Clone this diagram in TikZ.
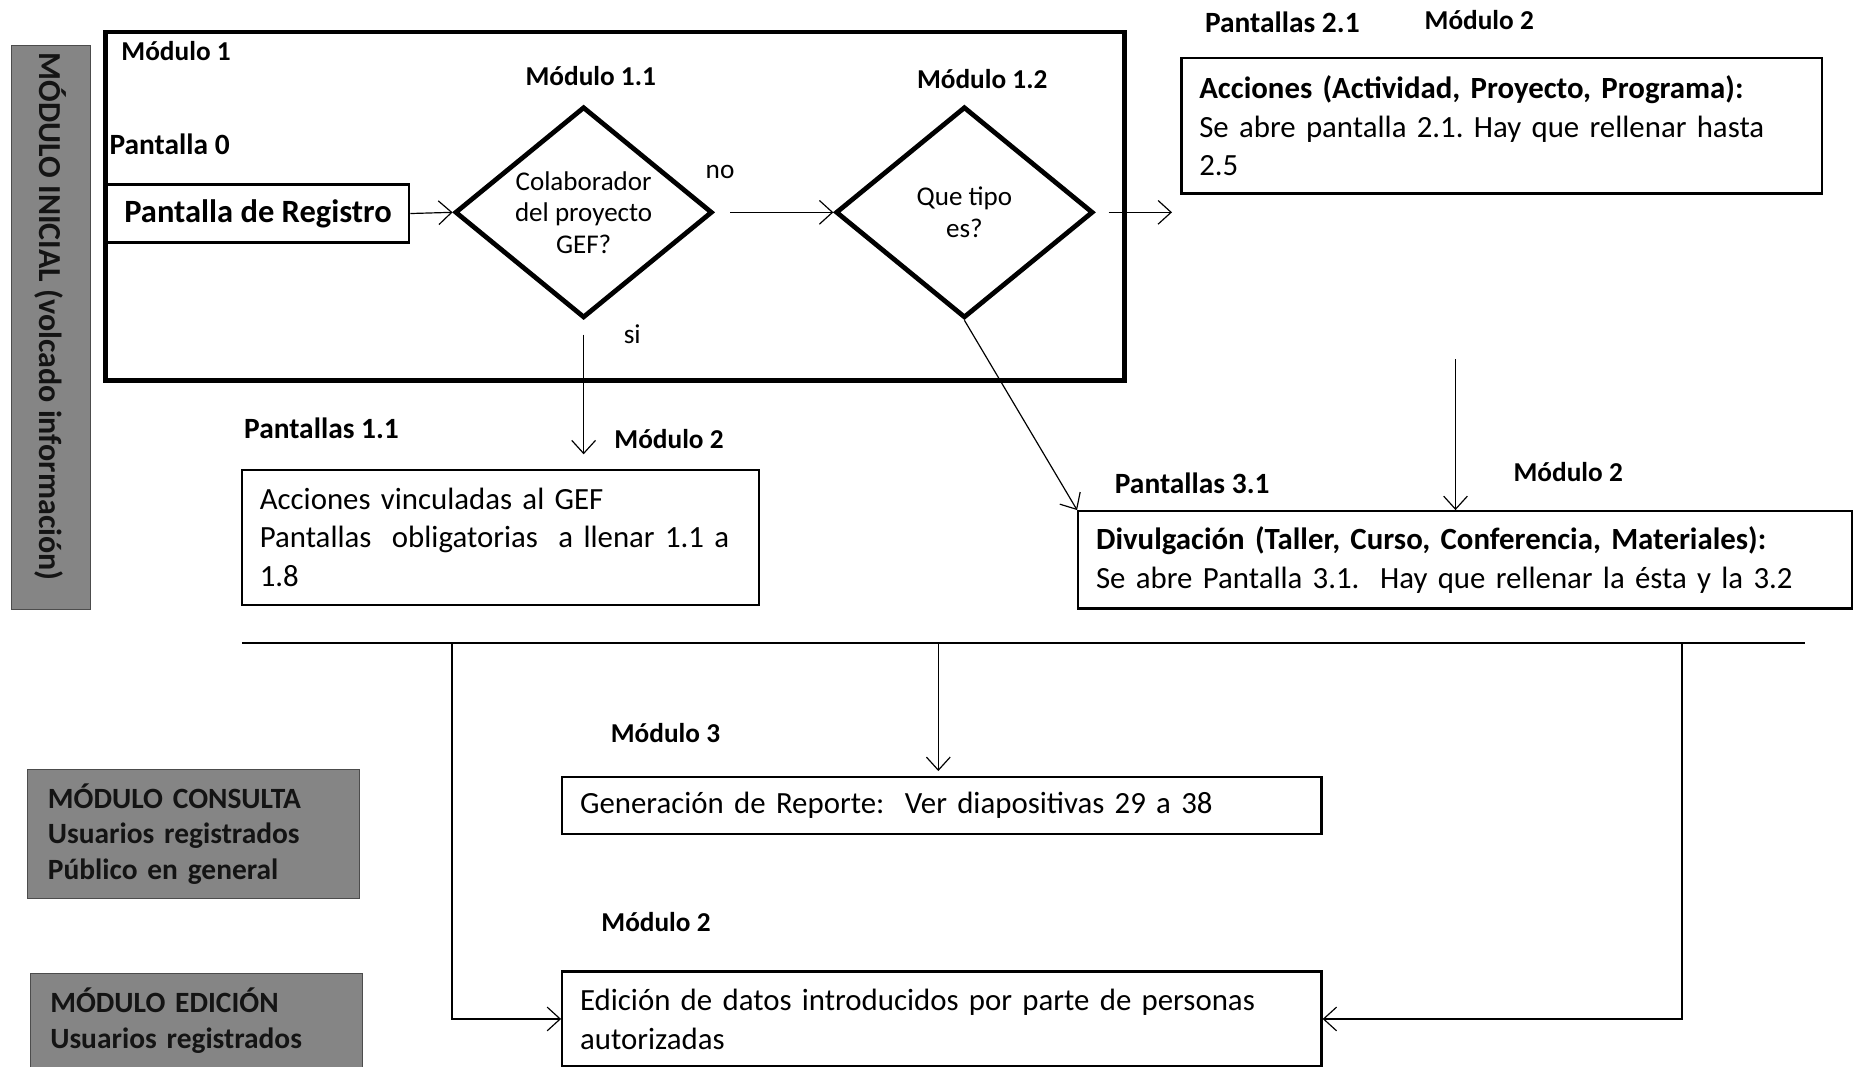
\documentclass[tikz,border=0pt]{standalone}
\usepackage{fontspec}
\setmainfont{Carlito}
\usetikzlibrary{arrows.meta,shapes.geometric,positioning}
\frenchspacing

\begin{document}
\begin{tikzpicture}[x=0.5pt,y=-0.5pt,
  etiq/.style={font=\bfseries\fontsize{11.5}{13}\selectfont,inner sep=0pt},
  pant/.style={etiq,font=\bfseries\fontsize{12.4}{14}\selectfont},
  caja/.style={draw,line width=1pt,anchor=north west,align=left,inner xsep=7.5pt,inner ysep=0pt,font=\fontsize{13}{16.4}\selectfont},
  rombo/.style={draw,diamond,line width=2pt,inner sep=-3pt,minimum width=108.5pt,minimum height=89pt,shape aspect=1.2,align=center,font=\fontsize{11.4}{13.3}\selectfont},
  gris/.style={draw=black!70,fill=black!48,text=black!92,anchor=north west,align=left,inner xsep=8.5pt,inner ysep=0pt,font=\bfseries\fontsize{12.4}{15}\selectfont},
  flecha/.style={-{Straight Barb[length=5.5pt,width=10pt]},line width=0.5pt}]
\useasboundingbox (0,0) rectangle (1568,899);

\node[gris,anchor=center,rotate=-90,inner xsep=1pt,minimum width=238pt,minimum height=33pt,font=\bfseries\fontsize{13.5}{15}\selectfont] (inicial) at (43,276) {MÓDULO INICIAL (volcado información)\hspace*{9pt}};
\node[draw,line width=2pt,anchor=north west,minimum width=429.5pt,minimum height=147pt,inner sep=0pt] (mod1) at (87,25) {};

\node[draw,line width=1pt,anchor=north west,minimum width=127.5pt,minimum height=24.5pt,inner sep=0pt,font=\bfseries\fontsize{13.7}{15}\selectfont] (reg) at (89,154.5) {Pantalla de Registro};
\node[rombo] (d1) at (492,179) {Colaborador\\del proyecto\\GEF?};
\node[rombo] (d2) at (813,179) {Que tipo\\es?};

\node[caja,text width=255pt,minimum height=57pt] (acc) at (995,48) {\textbf{Acciones (Actividad, Proyecto, Programa):}\\Se abre pantalla 2.1. Hay que rellenar hasta\\2.5};
\node[caja,text width=203pt,minimum height=57pt] (vinc) at (203,395) {Acciones vinculadas al GEF\\Pantallas\ \ obligatorias\ \ a llenar 1.1 a\\1.8};
\node[caja,text width=311pt,minimum height=41pt] (div) at (908,430) {\textbf{Divulgación (Taller, Curso, Conferencia, Materiales):}\\Se abre Pantalla 3.1.\ \ Hay que rellenar la ésta y la 3.2};
\node[caja,text width=305pt,minimum height=24pt] (gen) at (473,654) {Generación de Reporte:\ \ Ver diapositivas 29 a 38};
\node[caja,text width=305pt,minimum height=40pt] (edic) at (473,818) {Edición de datos introducidos por parte de personas\\autorizadas};

\node[gris,text width=123pt,minimum height=54.5pt] (consulta) at (23,648) {MÓDULO CONSULTA\\Usuarios registrados\\Público en general};
\node[gris,text width=123pt,minimum height=40pt] (edicion) at (25,820) {MÓDULO EDICIÓN\\Usuarios registrados};

\node[etiq,anchor=west] (m1) at (102,43) {Módulo 1};
\node[etiq] (m11) at (498,64) {Módulo 1.1};
\node[pant] (p0) at (143,122) {Pantalla 0};
\node[etiq] (m12) at (828,67) {Módulo 1.2};
\node[pant] (p21) at (1081,19) {Pantallas 2.1};
\node[etiq] (m2a) at (1247,17) {Módulo 2};
\node[pant] (p11) at (271,361) {Pantallas 1.1};
\node[etiq] (m2b) at (564,370) {Módulo 2};
\node[pant] (p31) at (1005,407) {Pantallas 3.1};
\node[etiq] (m2c) at (1322,398) {Módulo 2};
\node[etiq] (m3) at (561,618) {Módulo 3};
\node[etiq] (m2d) at (553,777) {Módulo 2};
\node[etiq,font=\fontsize{11.5}{13}\selectfont] (no) at (607,145) {no};
\node[etiq,font=\fontsize{11.5}{13}\selectfont] (si) at (533,282) {si};

\coordinate (f2) at (988,179);
\coordinate (c2) at (1227,303);
\coordinate (hl) at (204,542);
\coordinate (hr) at (1522,542);
\coordinate (b1) at (381,542);
\coordinate (b2) at (791,542);
\coordinate (b3) at (1418,542);

\draw[flecha] (reg.east) -- (d1.west);
\draw[flecha,shorten <=6.5pt] (d1.east) -- (d2.west);
\draw[flecha,shorten <=5.5pt] (d2.east) -- (f2);
\draw[flecha,shorten <=6pt,shorten >=6pt] (d1.south) -- (d1.south |- vinc.north);
\draw[flecha] (d2.south) -- (div.north west);
\draw[flecha] (c2) -- (c2 |- div.north);
\draw[line width=1pt] (hl) -- (hr);
\draw[flecha] (b1) |- (edic.west);
\draw[flecha,shorten >=2pt] (b2) -- (b2 |- gen.north);
\draw[flecha] (b3) |- (edic.east);
\end{tikzpicture}
\end{document}
